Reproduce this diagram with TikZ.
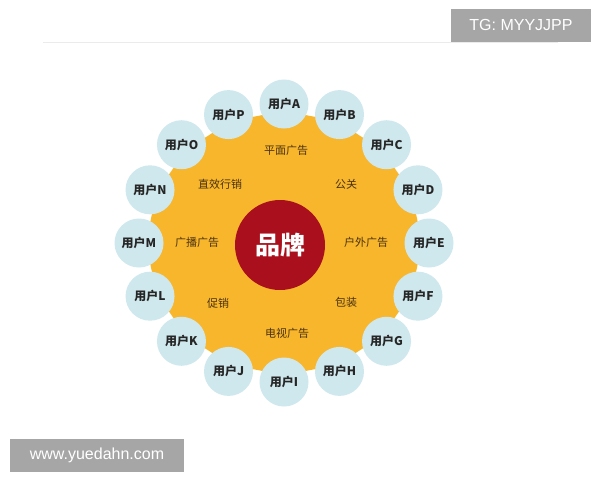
\documentclass[tikz,border=0pt]{standalone}
\usepackage{fontspec}
\setmainfont{Liberation Sans}
\newfontfamily\cjk{Noto Sans CJK SC}
\definecolor{orangefill}{HTML}{F8B62C}
\definecolor{brandred}{HTML}{A90F1C}
\definecolor{userblue}{HTML}{CFE8ED}
\definecolor{labelbrown}{HTML}{4A3210}
\definecolor{wmgray}{HTML}{A6A6A6}
\begin{document}
\begin{tikzpicture}[x=1pt,y=-1pt,
  userbox/.style={circle,fill=userblue,minimum size=49pt,inner sep=0pt,font=\cjk\bfseries\fontsize{12}{13}\selectfont,text=black!85},
  channel/.style={font=\cjk\fontsize{11}{12}\selectfont,text=labelbrown},
  brand/.style={circle,fill=brandred,minimum size=90pt,inner sep=0pt,font=\cjk\bfseries\fontsize{25}{28}\selectfont,text=white},
  wm/.style={fill=wmgray,text=white,font=\fontsize{16}{18}\selectfont,inner sep=0pt,minimum height=33pt}]
\useasboundingbox (0,0) rectangle (600,480);
\fill[white] (0,0) rectangle (600,480);
% top rule
\draw[black!8,line width=0.8pt] (43,42) -- (558,42);
% orange scalloped disc
\fill[orangefill] (284+140,243)
  \foreach \i in {1,...,16} { to[bend left=7] ({284+140*cos(22.5*\i)},{243-134*sin(22.5*\i)}) } -- cycle;
% user circles
\foreach \n [count=\k from 0] in {A,B,C,D,E,F,G,H,I,J,K,L,M,N,O,P} {
  \node[userbox] (u\n) at ({284+145*cos(90-22.5*\k)},{243-139*sin(90-22.5*\k)}) {用户\n};
}
% brand
\node[brand] (brand) at (280,245) {品牌};
% channel labels
\node[channel] (c1) at (286,150) {平面广告};
\node[channel] (c2) at (346,184) {公关};
\node[channel] (c3) at (366,242) {户外广告};
\node[channel] (c4) at (346,302) {包装};
\node[channel] (c5) at (287,333) {电视广告};
\node[channel] (c6) at (218,303) {促销};
\node[channel] (c7) at (197,242) {广播广告};
\node[channel] (c8) at (220,184) {直效行销};
% watermarks
\node[wm,minimum width=140pt] (tg) at (521,25) {TG: MYYJJPP};
\node[wm,minimum width=174pt] (www) at (97,455) {www.yuedahn.com};
\end{tikzpicture}
\end{document}
